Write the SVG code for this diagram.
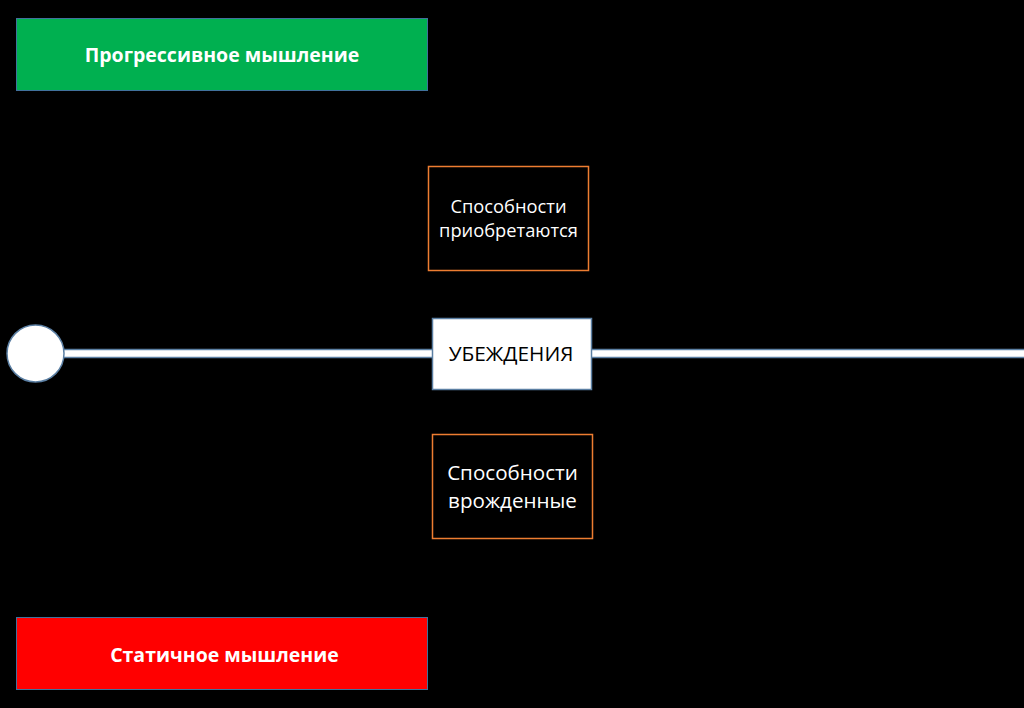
<svg xmlns="http://www.w3.org/2000/svg" width="1024" height="708" viewBox="0 0 1024 708">
<style>
.t{font-family:"Open Sans","Liberation Sans",sans-serif;text-anchor:middle}
.w{fill:#fff}
.b{font-weight:bold;font-size:19.5px}
.n{font-size:18.3px}
.box{fill:#000;stroke:#ED7D31;stroke-width:1.5}
</style>
<rect x="0" y="0" width="1024" height="708" fill="#000"/>
<g id="connectors">
<rect x="60" y="349.5" width="970" height="8" fill="#fff" stroke="#5B7FA3" stroke-width="1.5"/>
</g>
<g id="start">
<circle cx="35.5" cy="353.5" r="28.5" fill="#fff" stroke="#5B7FA3" stroke-width="1.5"/>
</g>
<g id="progressive">
<rect x="16.5" y="18.5" width="411" height="72" fill="#00B050" stroke="#41719C" stroke-width="1"/>
<text class="t w b" x="222" y="62">Прогрессивное мышление</text>
</g>
<g id="static">
<rect x="16.5" y="617.5" width="411" height="72" fill="#FF0000" stroke="#41719C" stroke-width="1"/>
<text class="t w b" x="224.5" y="662" font-size="19.3">Статичное мышление</text>
</g>
<g id="acquired">
<rect class="box" x="428.5" y="166.5" width="160" height="104"/>
<text class="t w n" x="508.5" y="213">Способности</text>
<text class="t w n" x="508.5" y="237">приобретаются</text>
</g>
<g id="beliefs">
<rect x="432.5" y="318.5" width="159" height="71" fill="#fff" stroke="#5B7FA3" stroke-width="1.5"/>
<text class="t" x="511" y="361" font-size="20.8" fill="#000">УБЕЖДЕНИЯ</text>
</g>
<g id="innate">
<rect class="box" x="432.5" y="434.5" width="160" height="104"/>
<text class="t w" x="512.5" y="480" font-size="20.6">Способности</text>
<text class="t w" x="512.5" y="508" font-size="20.6">врожденные</text>
</g>
</svg>
